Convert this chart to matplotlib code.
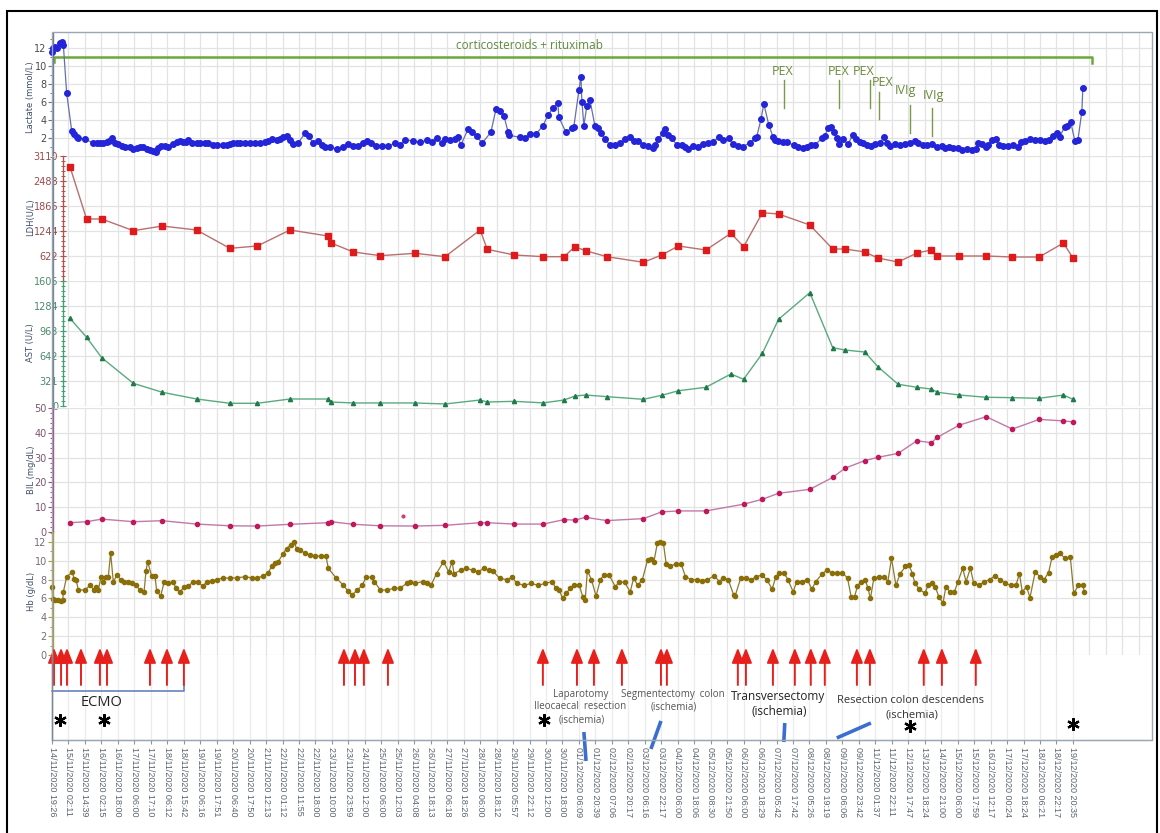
import matplotlib.pyplot as plt
from matplotlib.patches import Rectangle
from matplotlib.lines import Line2D
from matplotlib.ticker import MultipleLocator

W, H = 1160, 833

time_labels = [
    "14/11/2020 19:26", "15/11/2020 02:11", "15/11/2020 14:39", "16/11/2020 02:15",
    "16/11/2020 18:00", "17/11/2020 06:00", "17/11/2020 17:10", "18/11/2020 06:12",
    "18/11/2020 15:42", "19/11/2020 06:16", "19/11/2020 17:51", "20/11/2020 06:40",
    "20/11/2020 17:50", "21/11/2020 12:13", "22/11/2020 01:12", "22/11/2020 11:55",
    "22/11/2020 18:00", "23/11/2020 10:00", "23/11/2020 23:59", "24/11/2020 12:00",
    "25/11/2020 06:00", "25/11/2020 12:03", "26/11/2020 04:08", "26/11/2020 18:13",
    "27/11/2020 06:18", "27/11/2020 18:26", "28/11/2020 06:00", "28/11/2020 18:12",
    "29/11/2020 05:57", "29/11/2020 22:12", "30/11/2020 12:00", "30/11/2020 18:00",
    "01/12/2020 06:09", "01/12/2020 20:39", "02/12/2020 07:06", "02/12/2020 20:17",
    "03/12/2020 06:16", "03/12/2020 22:17", "04/12/2020 06:00", "04/12/2020 18:06",
    "05/12/2020 08:30", "05/12/2020 21:50", "06/12/2020 06:00", "06/12/2020 18:29",
    "07/12/2020 05:42", "07/12/2020 17:42", "08/12/2020 05:26", "08/12/2020 19:19",
    "09/12/2020 06:06", "09/12/2020 23:42", "11/12/2020 01:37", "11/12/2020 22:11",
    "12/12/2020 17:47", "13/12/2020 18:24", "14/12/2020 21:00", "15/12/2020 06:00",
    "15/12/2020 17:59", "16/12/2020 12:17", "17/12/2020 00:24", "17/12/2020 18:24",
    "18/12/2020 06:21", "18/12/2020 22:17", "19/12/2020 20:35",
]

# x positions are in tick units: 0 = first label, 62 = last label
lactate_t = [
    0.0, 0.08, 0.18, 0.32, 0.49, 0.61, 0.69, 0.89, 1.2, 1.34,
    1.5, 1.6, 2.0, 2.51, 2.71, 2.91, 3.11, 3.32, 3.48, 3.62,
    3.83, 4.03, 4.23, 4.43, 4.74, 4.94, 5.14, 5.34, 5.54, 5.75,
    5.95, 6.15, 6.31, 6.45, 6.62, 6.86, 7.06, 7.36, 7.57, 7.77,
    7.94, 8.14, 8.28, 8.48, 8.79, 8.99, 9.29, 9.49, 9.79, 10.0,
    10.4, 10.6, 10.81, 11.01, 11.25, 11.41, 11.72, 12.02, 12.33, 12.63,
    12.93, 13.13, 13.34, 13.64, 13.84, 14.04, 14.25, 14.45, 14.65, 14.95,
    15.36, 15.6, 15.85, 16.15, 16.39, 16.58, 16.88, 17.3, 17.67, 17.97,
    18.28, 18.58, 18.88, 19.13, 19.37, 19.67, 20.04, 20.4, 20.83, 21.13,
    21.43, 21.92, 22.34, 22.77, 23.07, 23.38, 23.68, 23.86, 24.17, 24.47,
    24.65, 24.83, 25.26, 25.5, 25.8, 26.11, 26.65, 26.96, 27.2, 27.44,
    27.69, 27.75, 28.42, 28.72, 29.02, 29.39, 29.81, 30.12, 30.42, 30.72,
    30.78, 31.21, 31.57, 31.69, 32.0, 32.12, 32.18, 32.3, 32.48, 32.67,
    32.97, 33.15, 33.33, 33.58, 33.88, 34.18, 34.49, 34.79, 35.09, 35.34,
    35.58, 35.88, 36.19, 36.49, 36.61, 36.79, 37.1, 37.22, 37.4, 37.64,
    37.95, 38.25, 38.43, 38.62, 38.92, 39.22, 39.53, 39.83, 40.13, 40.5,
    40.74, 41.1, 41.35, 41.65, 41.95, 42.38, 42.68, 42.8, 43.05, 43.23,
    43.53, 43.78, 43.9, 44.08, 44.38, 44.63, 45.05, 45.29, 45.6, 45.84,
    46.08, 46.33, 46.75, 46.93, 47.11, 47.3, 47.48, 47.66, 47.78, 48.03,
    48.33, 48.63, 48.82, 49.06, 49.24, 49.48, 49.73, 49.97, 50.27, 50.52,
    50.7, 50.88, 51.18, 51.49, 51.79, 52.09, 52.4, 52.58, 52.88, 53.13,
    53.43, 53.73, 54.04, 54.22, 54.46, 54.71, 55.01, 55.25, 55.56, 55.86,
    56.1, 56.22, 56.47, 56.71, 56.83, 57.07, 57.32, 57.5, 57.74, 58.04,
    58.35, 58.65, 58.83, 59.08, 59.38, 59.68, 59.99, 60.29, 60.53, 60.78,
    61.02, 61.2, 61.5, 61.63, 61.87, 62.11, 62.3, 62.54, 62.6,
]
lactate = [
    11.5, 12.0, 12.1, 12.0, 12.5, 12.6, 12.3, 7.0, 2.8, 2.5,
    2.2, 2.0, 1.95, 1.46, 1.5, 1.46, 1.5, 1.6, 1.75, 2.0,
    1.46, 1.35, 1.2, 1.1, 1.0, 0.86, 0.9, 1.1, 1.0, 0.8,
    0.75, 0.6, 0.55, 0.9, 1.2, 1.15, 1.1, 1.4, 1.6, 1.75,
    1.6, 1.65, 1.8, 1.5, 1.5, 1.5, 1.45, 1.5, 1.3, 1.3,
    1.25, 1.3, 1.35, 1.45, 1.5, 1.5, 1.45, 1.5, 1.45, 1.5,
    1.6, 1.75, 1.95, 1.85, 1.95, 2.2, 2.3, 1.85, 1.4, 1.5,
    2.56, 2.26, 1.46, 1.7, 1.27, 1.08, 1.08, 0.83, 1.08, 1.38,
    1.16, 1.2, 1.46, 1.74, 1.46, 1.19, 1.19, 1.16, 1.46, 1.27,
    1.82, 1.74, 1.56, 1.82, 1.65, 2.0, 1.46, 1.9, 1.82, 1.9,
    2.12, 1.27, 3.0, 2.74, 2.26, 1.46, 2.67, 5.2, 5.0, 4.5,
    2.74, 2.34, 2.12, 2.0, 2.48, 2.48, 3.37, 4.58, 5.32, 5.94,
    4.33, 2.67, 3.18, 3.29, 7.34, 8.81, 6.05, 3.4, 5.57, 6.24,
    3.37, 3.2, 2.56, 1.9, 1.27, 1.27, 1.46, 1.9, 2.19, 1.74,
    1.7, 1.27, 1.16, 0.9, 1.27, 1.9, 2.56, 3.03, 2.37, 2.0,
    1.27, 1.27, 1.08, 0.83, 1.16, 1.1, 1.38, 1.46, 1.63, 2.12,
    1.82, 2.0, 1.35, 1.19, 1.08, 1.52, 2.0, 2.19, 4.1, 5.8,
    3.48, 2.19, 1.82, 1.71, 1.57, 1.55, 1.27, 1.08, 0.9, 1.08,
    1.27, 1.27, 2.0, 2.26, 3.11, 3.22, 2.67, 2.08, 1.38, 1.9,
    1.35, 2.37, 1.9, 1.63, 1.46, 1.27, 1.16, 1.35, 1.46, 2.12,
    1.46, 1.16, 1.38, 1.27, 1.38, 1.52, 1.71, 1.46, 1.27, 1.27,
    1.38, 1.08, 1.16, 0.9, 1.08, 0.9, 0.9, 0.72, 0.78, 0.72,
    0.8, 1.52, 1.38, 1.08, 1.27, 1.82, 1.9, 1.27, 1.16, 1.16,
    1.27, 1.08, 1.63, 1.71, 1.9, 1.82, 1.82, 1.71, 1.82, 2.26,
    2.56, 2.19, 3.29, 3.35, 3.77, 1.74, 1.82, 4.95, 7.53,
]

lab_t = [
    1.09, 2.1, 3.02, 4.94, 6.7, 8.78, 10.8, 12.47, 14.45, 16.75,
    16.95, 18.3, 19.94, 22.05, 23.87, 26.0, 26.43, 28.07, 29.84, 31.1,
    31.75, 32.4, 33.7, 35.92, 37.02, 38.04, 39.71, 41.23, 42.0, 43.14,
    44.12, 46.02, 47.41, 48.15, 49.36, 50.15, 51.38, 52.53, 53.4, 53.77,
    55.1, 56.73, 58.32, 59.95, 61.42, 62.0,
]
ldh = [
    2844, 1543, 1543, 1252, 1368, 1269, 813, 871, 1269, 1120,
    945, 722, 630, 689, 605, 1269, 789, 647, 605, 605,
    853, 754, 605, 465, 647, 871, 771, 1187, 853, 1699,
    1667, 1393, 796, 796, 722, 572, 473, 697, 771, 622,
    622, 622, 597, 597, 945, 572,
]
ast = [
    1126, 882, 620, 291, 176, 90, 35, 35, 90, 90,
    51, 39, 39, 39, 26, 77, 51, 60, 40, 77,
    128, 141, 120, 86, 137, 196, 240, 411, 343, 676,
    1113, 1455, 749, 719, 693, 505, 279, 240, 218, 176,
    141, 112, 107, 99, 141, 86,
]
bil_t = [t for t in lab_t if t != 41.23]
bil = [
    3.75, 4.15, 5.2, 4.15, 4.55, 3.2, 2.5, 2.4, 3.1, 3.75,
    4.15, 3.1, 2.5, 2.4, 2.7, 3.75, 3.75, 3.2, 3.2, 5.0,
    4.8, 5.9, 4.6, 5.4, 8.1, 8.5, 8.5, 11.2, 13.2,
    15.6, 17.2, 22.0, 25.7, 28.8, 30.1, 31.7, 36.8, 36.0, 38.2,
    43.1, 46.5, 41.5, 45.4, 44.8, 44.4,
]
bil_single_t = [21.3]
bil_single = [6.5]

hb_t = [
    0.0, 0.04, 0.18, 0.36, 0.55, 0.65, 0.69, 0.89, 1.23, 1.34,
    1.46, 1.6, 2.0, 2.31, 2.55, 2.67, 2.81, 2.98, 3.11, 3.28,
    3.42, 3.56, 3.72, 3.96, 4.17, 4.37, 4.6, 4.84, 5.1, 5.34,
    5.59, 5.71, 5.81, 6.05, 6.25, 6.36, 6.6, 6.8, 7.06, 7.37,
    7.51, 7.77, 8.03, 8.28, 8.58, 8.88, 9.19, 9.39, 9.7, 10.0,
    10.4, 10.81, 11.21, 11.72, 12.13, 12.43, 12.83, 13.13, 13.34, 13.54,
    13.74, 14.01, 14.25, 14.49, 14.69, 14.86, 15.03, 15.36, 15.68, 15.99,
    16.31, 16.64, 16.78, 17.27, 17.7, 17.97, 18.23, 18.55, 18.83, 19.08,
    19.41, 19.57, 19.94, 20.36, 20.79, 21.13, 21.54, 21.75, 22.06, 22.5,
    22.77, 23.02, 23.35, 23.77, 24.09, 24.3, 24.41, 24.83, 25.15, 25.58,
    25.9, 26.22, 26.54, 26.78, 27.18, 27.61, 27.92, 28.25, 28.67, 29.1,
    29.52, 29.95, 30.38, 30.59, 30.8, 31.01, 31.23, 31.48, 31.69, 32.02,
    32.23, 32.38, 32.51, 32.76, 33.04, 33.3, 33.51, 33.83, 34.21, 34.46,
    34.78, 35.11, 35.32, 35.57, 35.85, 36.17, 36.38, 36.55, 36.76, 36.92,
    37.13, 37.3, 37.55, 37.87, 38.2, 38.47, 38.83, 39.15, 39.47, 39.79,
    40.22, 40.53, 40.75, 41.07, 41.39, 41.49, 41.82, 42.14, 42.45, 42.77,
    43.1, 43.41, 43.73, 43.95, 44.16, 44.44, 44.69, 45.01, 45.22, 45.54,
    45.87, 46.14, 46.39, 46.78, 47.04, 47.35, 47.66, 48.0, 48.31, 48.53,
    48.74, 48.91, 49.12, 49.38, 49.55, 49.7, 49.91, 50.23, 50.55, 50.76,
    50.98, 51.25, 51.51, 51.83, 52.04, 52.25, 52.4, 52.68, 53.0, 53.21,
    53.42, 53.64, 53.85, 54.11, 54.28, 54.54, 54.8, 55.02, 55.3, 55.51,
    55.77, 55.98, 56.3, 56.62, 56.94, 57.26, 57.58, 57.9, 58.22, 58.54,
    58.75, 58.92, 59.18, 59.39, 59.71, 59.99, 60.24, 60.52, 60.73, 60.99,
    61.2, 61.52, 61.84, 62.05, 62.33, 62.59, 62.7,
]
hb = [
    7.25, 5.9, 5.8, 5.85, 5.75, 5.8, 6.7, 8.3, 8.8, 8.1,
    8.0, 6.9, 6.9, 7.4, 6.9, 7.25, 6.9, 8.3, 7.8, 8.3,
    8.3, 10.86, 7.8, 8.5, 8.0, 7.8, 7.7, 7.6, 7.4, 6.9,
    6.7, 8.95, 9.9, 8.4, 8.4, 6.8, 6.25, 7.7, 7.6, 7.8,
    7.1, 6.7, 7.25, 7.3, 7.8, 7.7, 7.3, 7.8, 7.85, 8.0,
    8.2, 8.15, 8.2, 8.3, 8.2, 8.15, 8.4, 8.75, 9.4, 9.8,
    9.9, 10.7, 11.3, 11.7, 12.0, 11.3, 11.2, 10.8, 10.6, 10.5,
    10.5, 10.5, 9.2, 8.15, 7.4, 6.8, 6.4, 6.9, 7.4, 8.25,
    8.25, 7.8, 6.9, 6.9, 7.1, 7.1, 7.6, 7.8, 7.6, 7.8,
    7.6, 7.4, 8.65, 9.9, 8.85, 9.9, 8.65, 9.0, 9.2, 9.0,
    8.85, 9.2, 9.0, 8.9, 8.15, 8.0, 8.25, 7.6, 7.4, 7.6,
    7.4, 7.6, 7.8, 7.1, 6.9, 6.0, 6.55, 7.1, 7.4, 7.4,
    6.2, 5.85, 8.95, 8.0, 6.25, 8.0, 8.5, 8.5, 7.25, 7.8,
    7.7, 6.7, 8.15, 7.4, 8.0, 10.1, 10.15, 9.9, 11.85, 12.0,
    11.85, 9.65, 9.4, 9.7, 9.7, 8.3, 8.0, 8.0, 7.9, 8.0,
    8.4, 7.8, 8.2, 8.0, 6.4, 6.3, 8.15, 8.2, 8.0, 8.3,
    8.5, 8.0, 7.0, 8.25, 8.75, 8.75, 8.0, 6.7, 7.8, 7.8,
    8.0, 7.0, 7.8, 8.65, 9.0, 8.75, 8.75, 8.75, 8.15, 6.2,
    6.2, 7.3, 7.8, 8.0, 7.1, 6.0, 8.15, 8.25, 8.25, 7.8,
    10.25, 7.4, 8.65, 9.4, 9.55, 8.65, 7.6, 7.0, 6.55, 7.4,
    7.6, 7.25, 6.2, 5.5, 7.25, 6.7, 6.7, 7.8, 9.2, 7.8,
    9.2, 7.6, 7.4, 7.8, 8.0, 8.4, 8.0, 7.6, 7.4, 7.4,
    8.65, 6.7, 7.25, 6.1, 8.85, 8.3, 8.0, 8.75, 10.4, 10.6,
    10.8, 10.25, 10.4, 6.55, 7.4, 7.4, 6.7,
]

transfusion_t = [
    0.12, 0.55, 0.91, 1.76, 2.91, 3.34, 5.95, 6.98, 8.01, 17.73,
    18.4, 18.94, 20.4, 29.81, 31.88, 32.91, 34.61, 36.98, 37.34, 41.65,
    42.14, 43.78, 45.11, 46.08, 46.93, 48.88, 49.67, 52.94, 54.04, 56.1,
]
ecmo_end_t = 8.01
asterisk_t = [0.49, 3.16, 29.87, 52.1, 62.0]

XMAX = 66.8
GRID = '#e3e3e3'

fig = plt.figure(figsize=(W / 100, H / 100), dpi=100)
fig.patch.set_facecolor('white')


def box(x0, y0, x1, y1):
    return [x0 / W, 1 - y1 / H, (x1 - x0) / W, (y1 - y0) / H]


def panel(y0, y1, ylim, ticks, minor, spine_c, label_c, name, name_y, spine_px=53, inout=False):
    ax = fig.add_axes(box(52, y0, 1152, y1))
    ax.set_facecolor('none')
    ax.set_xlim(0, XMAX)
    ax.set_ylim(*ylim)
    for s in ['top', 'right', 'bottom']:
        ax.spines[s].set_visible(False)
    ax.spines['left'].set_position(('axes', (spine_px - 52) / 1100))
    ax.spines['left'].set_color(spine_c)
    ax.spines['left'].set_linewidth(1.0)
    ax.set_yticks(ticks)
    ax.yaxis.set_minor_locator(MultipleLocator(minor))
    d = 'inout' if inout else 'out'
    ax.tick_params(axis='y', which='major', direction=d, length=5 if inout else 3.5,
                   width=0.8, color=spine_c, labelcolor=label_c, labelsize=7, pad=1)
    ax.tick_params(axis='y', which='minor', direction=d, length=3 if inout else 2,
                   width=0.7, color=spine_c)
    ax.set_xticks(range(67))
    ax.tick_params(axis='x', length=0, labelbottom=False)
    ax.grid(True, which='major', color=GRID, lw=0.9)
    ax.set_axisbelow(True)
    fig.text(31 / W, 1 - name_y / H, name, rotation=90, ha='center', va='center',
             fontsize=6, color='#3c4e66')
    return ax


ax_lac = panel(33, 156.5, (0, 13.63), range(2, 13, 2), 1, '#6a7a8a', '#4a4a55',
               'Lactate (mmol/L)', 97)
ax_ldh = panel(156, 281, (0, 3110), [622, 1244, 1866, 2488, 3110], 124.4, '#b05050',
               '#9a4a4a', 'LDH(U/L)', 217, spine_px=63, inout=True)
ax_ast = panel(281, 406, (0, 1605), [0, 321, 642, 963, 1284, 1605], 64.2, '#40a070',
               '#4a8a6a', 'AST (U/L)', 343, spine_px=63, inout=True)
ax_bil = panel(408, 532, (0, 50), range(0, 51, 10), 2, '#a05080', '#7a5570',
               'BIL (mg/dL)', 470)
ax_hb = panel(532, 655, (0, 13.06), range(0, 13, 2), 1, '#b09a30', '#7a6a7a',
              'Hb (g/dL)', 591)

ax_lac.plot(lactate_t, lactate, '-o', color='#6670a8', lw=0.9, ms=4,
            mfc='#2424d8', mec='#2424d8', clip_on=False, zorder=3)
ax_ldh.plot(lab_t, ldh, '-s', color='#b87070', lw=1.0, ms=4.5,
            mfc='#e01a1a', mec='#e01a1a', clip_on=False, zorder=3)
ax_ast.plot(lab_t, ast, '-^', color='#5aaa80', lw=1.0, ms=3,
            mfc='#1f7a4a', mec='#1f7a4a', clip_on=False, zorder=3)
ax_bil.plot(bil_t, bil, '-o', color='#c07aa8', lw=1.0, ms=3,
            mfc='#c0185a', mec='#c0185a', clip_on=False, zorder=3)
ax_bil.plot(bil_single_t, bil_single, 'o', ms=2, color='#d04070', zorder=3)
ax_hb.plot(hb_t, hb, '-o', color='#8a7a30', lw=0.9, ms=3,
           mfc='#8a6e08', mec='#8a6e08', clip_on=False, zorder=3)

# treatment bracket and plasma exchange / IVIg marks in the lactate panel
green = '#6aa83a'
ax_lac.plot([0.12, 0.12, 63.15, 63.15], [10.4, 10.93, 10.93, 10.3], color=green,
            lw=1.8, clip_on=False)
ax_lac.text(29.0, 12.3, 'corticosteroids + rituximab', ha='center', va='center',
            fontsize=8.5, color='#5e8a3c', family='Open Sans')
mark_c = '#7a9a4a'
for lbl, tx, ty, lx, ly0, ly1 in [
        ('PEX', 44.38, 9.33, 44.44, 8.44, 5.35),
        ('PEX', 47.78, 9.33, 47.78, 8.44, 5.35),
        ('PEX', 49.3, 9.33, 49.67, 8.44, 5.35),
        ('PEX', 50.45, 8.22, 50.21, 7.15, 4.1),
        ('IVIg', 51.85, 7.23, 52.09, 5.68, 2.63),
        ('IVIg', 53.55, 6.68, 53.43, 5.32, 2.26)]:
    ax_lac.text(tx, ty, lbl, ha='center', va='center', fontsize=9, color='#6a8a3a',
                family='Open Sans')
    ax_lac.plot([lx, lx], [ly0, ly1], color=mark_c, lw=1)

# bottom strip: transfusions, procedures, time axis
ax_b = fig.add_axes(box(52, 655, 1152, 740))
ax_b.set_facecolor('none')
ax_b.set_xlim(0, XMAX)
ax_b.set_ylim(0, 1)
for s in ['top', 'right', 'left']:
    ax_b.spines[s].set_visible(False)
ax_b.spines['bottom'].set_color('#8a96a2')
ax_b.set_yticks([])
ax_b.set_xticks(range(len(time_labels)))
ax_b.set_xticklabels(time_labels, rotation=270, fontsize=6.5, color='#5a6470',
                     family='Liberation Sans')
ax_b.tick_params(axis='x', length=3, color='#8a96a2', pad=2)
ax_b.grid(True, axis='x', color='#ececec', lw=0.9)
ax_b.set_axisbelow(True)

for t in transfusion_t:
    ax_b.annotate('', xy=(t, 1.085), xytext=(t, 0.647), annotation_clip=False,
                  arrowprops=dict(arrowstyle='-|>,head_length=0.9,head_width=0.36',
                                  color='#e8201c', lw=1.4, mutation_scale=10,
                                  shrinkA=0, shrinkB=0))

ax_b.plot([0, ecmo_end_t, ecmo_end_t], [0.576, 0.576, 0.647], color='#6a80c0', lw=1.2,
          clip_on=False)
ax_b.text(3.04, 0.447, 'ECMO', ha='center', va='center', fontsize=10.5,
          color='#222222', family='Open Sans')

for t, y in zip(asterisk_t, [0.235, 0.235, 0.235, 0.165, 0.19]):
    ax_b.plot(t, y, marker=(6, 2, 0), ms=9, mew=1.6, color='black', clip_on=False)

small = dict(ha='center', va='center', fontsize=7, color='#555555', family='Open Sans')
ax_b.text(32.12, 0.53, 'Laparotomy', **small)
ax_b.text(32.06, 0.39, 'Ileocaecal  resection', **small)
ax_b.text(32.18, 0.235, '(ischemia)', **small)
ax_b.text(37.7, 0.53, 'Segmentectomy  colon', **small)
ax_b.text(37.77, 0.39, '(ischemia)', **small)
big = dict(ha='center', va='center', fontsize=8.5, color='#222222', family='Open Sans')
ax_b.text(44.08, 0.506, 'Transversectomy', **big)
ax_b.text(44.14, 0.33, '(ischemia)', **big)
mid = dict(ha='center', va='center', fontsize=8, color='#333333', family='Open Sans')
ax_b.text(52.16, 0.47, 'Resection colon descendens', **mid)
ax_b.text(52.22, 0.294, '(ischemia)', **mid)

blue = '#3a6fd0'
for xs, ys in [([32.3, 32.43], [0.094, -0.247]),
               ([36.98, 36.37], [0.224, -0.106]),
               ([44.5, 44.44], [0.2, -0.024]),
               ([47.66, 49.73], [0.024, 0.2])]:
    ax_b.plot(xs, ys, color=blue, lw=2.6, clip_on=False, solid_capstyle='butt')

# frame pieces
fig.add_artist(Line2D([53 / W, 53 / W], [1 - 156.5 / H, 1 - 408 / H], color='#7a8a9a', lw=1))
fig.add_artist(Line2D([52 / W, 52 / W], [1 - 655 / H, 1 - 740 / H], color='#7a8a9a', lw=1))
fig.add_artist(Rectangle((52 / W, 1 - 740 / H), 1100 / W, 708 / H, fill=False,
                         ec='#9aa6b2', lw=1, transform=fig.transFigure))
fig.add_artist(Rectangle((7 / W, -0.05), 1150 / W, 1.05 - 11 / H, fill=False,
                         ec='black', lw=1.5, transform=fig.transFigure))

fig.savefig('out.png', dpi=100)
